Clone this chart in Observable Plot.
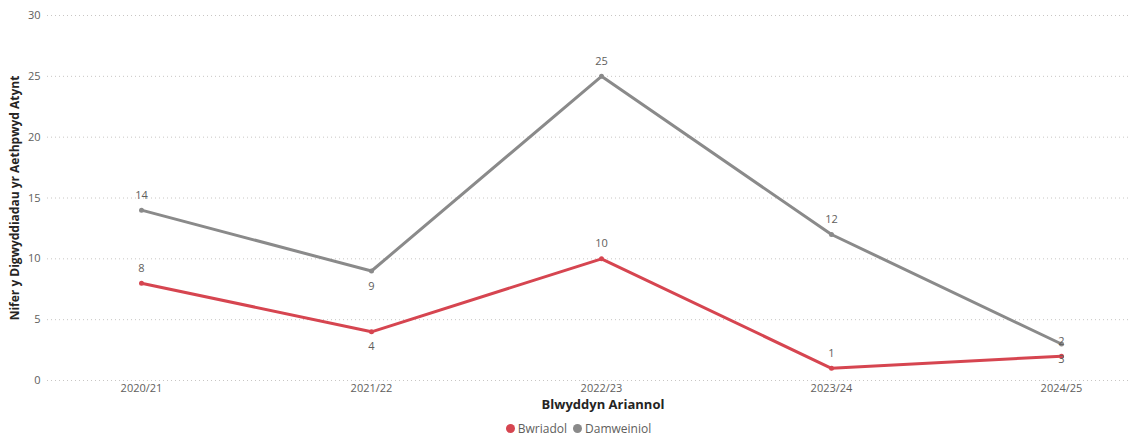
<!DOCTYPE html>
<html>
<head>
<meta charset="utf-8">
<script src="https://cdn.jsdelivr.net/npm/d3@7"></script>
<script src="https://cdn.jsdelivr.net/npm/@observablehq/plot@0.6"></script>
<style>
  body { margin: 0; background: #fff; font-family: "Open Sans", "DejaVu Sans", sans-serif; }
  #legend { display: flex; justify-content: center; gap: 6px; font-size: 12px; color: #605E5C; margin-left: 22px; margin-top: 2px; }
  #legend span { display: inline-flex; align-items: center; }
  #legend i { display: inline-block; width: 9px; height: 9px; border-radius: 50%; margin-right: 3px; }
</style>
</head>
<body>
<div id="chart"></div>
<div id="legend"></div>
<script>
const years = ["2020/21", "2021/22", "2022/23", "2023/24", "2024/25"];
const seriesNames = ["Bwriadol", "Damweiniol"];
const seriesColors = ["#D64550", "#8A8A8A"];
const bwriadol = [8, 4, 10, 1, 2];
const damweiniol = [14, 9, 25, 12, 3];
// label placement as drawn in the reference: -1 above the point, 1 below
const bwriadolLabelSide = [-1, 1, -1, -1, -1];
const damweiniolLabelSide = [-1, 1, -1, -1, 1];
const yTicks = [0, 5, 10, 15, 20, 25, 30];

const data = [];
years.forEach((y, i) => {
  data.push({year: y, value: bwriadol[i], series: seriesNames[0], side: bwriadolLabelSide[i]});
  data.push({year: y, value: damweiniol[i], series: seriesNames[1], side: damweiniolLabelSide[i]});
});
// At 2024/25 the reference's labels collide and sit almost on the points
const labels = data.map(d => ({...d, dy: d.side < 0 ? -15 : 15}));
const last = years[years.length - 1];
const lr = labels.find(d => d.year === last && d.series === seriesNames[0]);
const lg = labels.find(d => d.year === last && d.series === seriesNames[1]);
lr.anchorValue = lg.value; lr.dy = -3;
lg.anchorValue = lr.value; lg.dy = 3;
labels.forEach(d => { if (d.anchorValue === undefined) d.anchorValue = d.value; });

const plot = Plot.plot({
  width: 1135,
  height: 418,
  marginLeft: 47,
  marginRight: 5,
  marginTop: 15,
  marginBottom: 38,
  style: { fontFamily: "'Open Sans', 'DejaVu Sans', sans-serif", fontSize: "11px", color: "#605E5C" },
  x: { type: "point", domain: years, range: [140, 1062], padding: 0, label: null },
  y: { domain: [0, 30], ticks: yTicks, label: null },
  color: { domain: seriesNames, range: seriesColors },
  marks: [
    Plot.gridY(yTicks, { stroke: "#C8C6C4", strokeOpacity: 1, strokeDasharray: "1,3", strokeWidth: 1 }),
    Plot.axisY(yTicks, { tickSize: 0, tickPadding: 7, fill: "#605E5C", fontSize: 11 }),
    Plot.axisX(years, { tickSize: 0, tickPadding: 4, fill: "#605E5C", fontSize: 11 }),
    Plot.line(data, { x: "year", y: "value", z: "series", stroke: "series", strokeWidth: 3 }),
    Plot.dot(data, { x: "year", y: "value", fill: "series", r: 2.5 }),
    Plot.text(labels, { x: "year", y: "anchorValue", text: d => String(d.value), dy: 0, fill: "#605E5C", fontSize: 11,
      render: (index, scales, values, dims, ctx, next) => {
        const g = next(index, scales, values, dims, ctx);
        d3.select(g).selectAll("text").each(function(i) {
          const t = d3.select(this);
          const prev = t.attr("transform") || "";
          t.attr("transform", `${prev} translate(0,${labels[i].dy})`);
        });
        return g;
      }
    }),
    Plot.text(["Blwyddyn Ariannol"], { frameAnchor: "bottom", dy: 28, dx: 14, fontSize: 13, fontWeight: "bold", fill: "#252423" }),
    Plot.text(["Nifer y Digwyddiadau yr Aethpwyd Atynt"], { frameAnchor: "left", textAnchor: "middle", dx: -32, rotate: -90, fontSize: 12, fontWeight: "bold", fill: "#252423" })
  ]
});
document.getElementById("chart").appendChild(plot);

const legend = document.getElementById("legend");
seriesNames.forEach((n, i) => {
  const s = document.createElement("span");
  s.innerHTML = `<i style="background:${seriesColors[i]}"></i>${n}`;
  legend.appendChild(s);
});
</script>
</body>
</html>
